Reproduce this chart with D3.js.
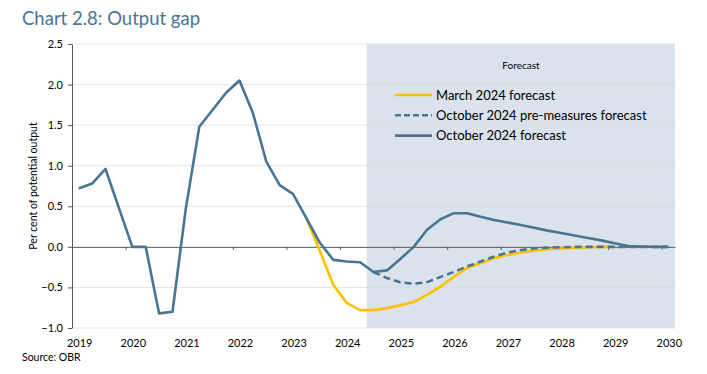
<!DOCTYPE html>
<html>
<head>
<meta charset="utf-8">
<script src="https://cdn.jsdelivr.net/npm/d3@7"></script>
<style>
  body { margin: 0; background: #fff; }
  svg { display: block; font-family: Lato, "Noto Sans", sans-serif; }
</style>
</head>
<body>
<script>
// quarterly values, first point is 2019 Q1
var startYear = 2019;
var forecastStart = 22; // 2024 Q3

var october = [0.72, 0.78, 0.96, 0.48, 0.0, 0.0, -0.82, -0.80, 0.48, 1.48,
    1.69, 1.90, 2.05, 1.65, 1.05, 0.76, 0.65, 0.35, 0.05, -0.16,
    -0.18, -0.19, -0.31, -0.29, -0.15, 0.0, 0.21, 0.34, 0.415, 0.415,
    0.37, 0.33, 0.30, 0.27, 0.235, 0.20, 0.17, 0.14, 0.11, 0.08,
    0.045, 0.01, 0.005, 0.0, 0.0];

// pre-measures forecast, from 2024 Q3
var preMeasures = [-0.31, -0.385, -0.435, -0.455, -0.435, -0.37, -0.31, -0.24, -0.18, -0.12,
    -0.07, -0.04, -0.02, -0.01, -0.005, 0.0, 0.0, 0.0, 0.0, 0.0,
    0.0, 0.0, 0.0];

// March 2024 forecast, from 2023 Q2 to 2029 Q1
var marchStart = 17;
var march = [0.35, -0.05, -0.47, -0.69, -0.78, -0.78, -0.755, -0.72, -0.68, -0.59,
    -0.49, -0.37, -0.26, -0.20, -0.14, -0.10, -0.07, -0.045, -0.03, -0.02,
    -0.01, -0.005, 0.0, 0.0];

var yTicks = [2.5, 2.0, 1.5, 1.0, 0.5, 0.0, -0.5, -1.0];
var years = d3.range(2019, 2031);

var width = 707, height = 374;
var plotLeft = 72, plotRight = 675, plotTop = 44, plotBottom = 328;

var blue = "#487592", yellow = "#FFC000", shade = "#DAE3EB";

var nQ = october.length;

var x = d3.scaleLinear().domain([0, nQ]).range([plotLeft, plotRight]);
var y = d3.scaleLinear().domain([-1, 2.5]).range([plotBottom, plotTop]);

// centre of a quarter slot
function qx(i) { return x(i + 0.5); }

var svg = d3.select("body").append("svg")
    .attr("width", width)
    .attr("height", height);

// title
svg.append("text")
    .attr("x", 22).attr("y", 25)
    .attr("fill", "#4A7493")
    .attr("font-size", 18.5)
    .text("Chart 2.8: Output gap");

// forecast shading
svg.append("rect")
    .attr("x", x(forecastStart))
    .attr("y", y(2.5))
    .attr("width", x(nQ) - x(forecastStart))
    .attr("height", y(-1) - y(2.5))
    .attr("fill", shade);

// gridlines
svg.append("g").selectAll("line")
    .data(yTicks.filter(function (d) { return d != 0; }))
    .enter().append("line")
    .attr("x1", plotLeft).attr("x2", plotRight)
    .attr("y1", function (d) { return y(d); })
    .attr("y2", function (d) { return y(d); })
    .attr("stroke", "#d9d9d9")
    .attr("stroke-width", 0.7);

// y axis
var yAxis = d3.axisLeft(y)
    .tickValues(yTicks)
    .tickFormat(d3.format(".1f"))
    .tickSize(4)
    .tickSizeOuter(0);

var gy = svg.append("g")
    .attr("transform", "translate(" + plotLeft + ",0)")
    .call(yAxis);
gy.select(".domain").attr("stroke", "#595959");
gy.selectAll(".tick line").attr("stroke", "#595959");
gy.selectAll(".tick text")
    .attr("font-size", 11)
    .attr("font-family", "Lato, 'Noto Sans', sans-serif")
    .attr("fill", "#000")
    .attr("dx", -2);

// zero line with year ticks
var xAxis = d3.axisBottom(x)
    .tickValues(d3.range(0, nQ + 1, 4))
    .tickFormat("")
    .tickSize(3)
    .tickSizeOuter(0);

var gx = svg.append("g")
    .attr("transform", "translate(0," + y(0) + ")")
    .call(xAxis);
gx.select(".domain").attr("stroke", "#595959");
gx.selectAll(".tick line").attr("stroke", "#595959");

// year labels below the plot
svg.append("g").selectAll("text")
    .data(years)
    .enter().append("text")
    .attr("x", function (d) { return qx((d - startYear) * 4) + 1; })
    .attr("y", 347)
    .attr("text-anchor", "middle")
    .attr("font-size", 11)
    .text(function (d) { return d; });

// y axis title
svg.append("text")
    .attr("transform", "translate(37," + y(0.75) + ") rotate(-90)")
    .attr("text-anchor", "middle")
    .attr("font-size", 10.5)
    .text("Per cent of potential output");

// series
var line = d3.line()
    .x(function (d) { return qx(d.i); })
    .y(function (d) { return y(d.v); });

function points(values, start) {
    return values.map(function (v, k) { return { i: start + k, v: v }; });
}

svg.append("path")
    .datum(points(march, marchStart))
    .attr("d", line)
    .attr("fill", "none")
    .attr("stroke", yellow)
    .attr("stroke-width", 2.6)
    .attr("stroke-linejoin", "round");

svg.append("path")
    .datum(points(october, 0))
    .attr("d", line)
    .attr("fill", "none")
    .attr("stroke", blue)
    .attr("stroke-width", 2.6)
    .attr("stroke-linejoin", "round");

svg.append("path")
    .datum(points(preMeasures, forecastStart))
    .attr("d", line)
    .attr("fill", "none")
    .attr("stroke", blue)
    .attr("stroke-width", 2.6)
    .attr("stroke-dasharray", "7,4");

// forecast label
svg.append("text")
    .attr("x", 521).attr("y", 69)
    .attr("text-anchor", "middle")
    .attr("font-size", 10)
    .text("Forecast");

// legend
var legend = [
    { name: "March 2024 forecast", color: yellow, dash: null },
    { name: "October 2024 pre-measures forecast", color: blue, dash: "6,3" },
    { name: "October 2024 forecast", color: blue, dash: null }
];

var lg = svg.append("g").selectAll("g")
    .data(legend)
    .enter().append("g")
    .attr("transform", function (d, i) { return "translate(395," + (95 + i * 20.3) + ")"; });

lg.append("line")
    .attr("x1", 0).attr("x2", 37)
    .attr("stroke", function (d) { return d.color; })
    .attr("stroke-width", 2.6)
    .attr("stroke-dasharray", function (d) { return d.dash; });

lg.append("text")
    .attr("x", 41).attr("y", 4.5)
    .attr("font-size", 13)
    .text(function (d) { return d.name; });

// source
svg.append("text")
    .attr("x", 22).attr("y", 361)
    .attr("font-size", 10.5)
    .text("Source: OBR");
</script>
</body>
</html>
